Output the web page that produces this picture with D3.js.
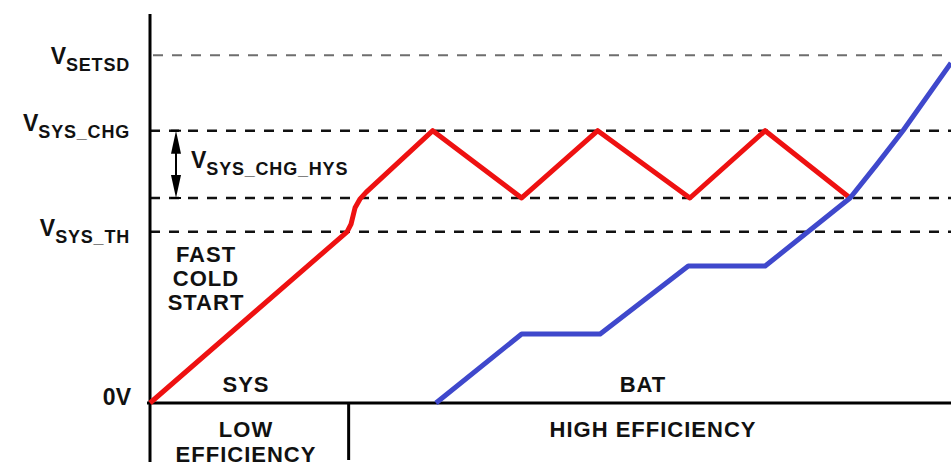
<!DOCTYPE html>
<html>
<head>
<meta charset="utf-8">
<script src="https://cdn.jsdelivr.net/npm/d3@7"></script>
<style>
  body { margin: 0; background: #fff; }
  text { font-family: "Liberation Sans", Arial, Helvetica, sans-serif; font-weight: bold; fill: #111; }
</style>
</head>
<body>
<div id="chart"></div>
<script>
// levels (arbitrary volt units) and their labels
const levelNames = ["SETSD", "SYS_CHG", "SYS_CHG_LOW", "SYS_TH"];
const levelValues = [4.47, 3.5, 2.635, 2.2];

// SYS rail (red): time, voltage
const sysTime = [0, 2.46, 2.51, 2.56, 2.62, 2.70, 3.53, 4.64, 5.59, 6.74, 7.68, 8.74];
const sysVolt = [0, 2.2, 2.30, 2.51, 2.62, 2.71, 3.5, 2.635, 3.5, 2.635, 3.5, 2.635];

// BAT (blue)
const batTime = [3.57, 4.64, 5.62, 6.72, 7.68, 8.74, 9.07, 9.40, 10];
const batVolt = [0, 0.887, 0.887, 1.76, 1.76, 2.635, 3.06, 3.5, 4.37];

const splitTime = 2.48; // low / high efficiency boundary

const W = 951, H = 462;
const x = d3.scaleLinear().domain([0, 10]).range([150, 951]);
const y = d3.scaleLinear().domain([0, 5]).range([403, 14]);

const svg = d3.select("#chart").append("svg")
    .attr("width", W).attr("height", H);

// dashed reference lines
levelNames.forEach((name, i) => {
    svg.append("line")
        .attr("x1", name === "SETSD" ? x(0) + 3 : x(0))
        .attr("x2", W)
        .attr("y1", y(levelValues[i])).attr("y2", y(levelValues[i]))
        .attr("stroke", name === "SETSD" ? "#6e6e6e" : "#111")
        .attr("stroke-width", name === "SETSD" ? 2 : 2.5)
        .attr("stroke-dasharray", "10,9");
});

// axes
svg.append("line")
    .attr("x1", x(0)).attr("x2", x(0))
    .attr("y1", y(5)).attr("y2", H)
    .attr("stroke", "#000").attr("stroke-width", 3);
svg.append("line")
    .attr("x1", x(0) - 3).attr("x2", W)
    .attr("y1", y(0)).attr("y2", y(0))
    .attr("stroke", "#000").attr("stroke-width", 3);
svg.append("line")
    .attr("x1", x(splitTime)).attr("x2", x(splitTime))
    .attr("y1", y(0)).attr("y2", 460)
    .attr("stroke", "#000").attr("stroke-width", 3);

const line = d3.line()
    .x(d => x(d[0]))
    .y(d => y(d[1]));

svg.append("path")
    .datum(sysTime.map((t, i) => [t, sysVolt[i]]))
    .attr("fill", "none")
    .attr("stroke", "#ee1111")
    .attr("stroke-width", 5)
    .attr("stroke-linejoin", "round")
    .attr("d", line);

svg.append("path")
    .datum(batTime.map((t, i) => [t, batVolt[i]]))
    .attr("fill", "none")
    .attr("stroke", "#3f48cc")
    .attr("stroke-width", 5)
    .attr("stroke-linejoin", "round")
    .attr("d", line);

// level labels: V + subscript
function vLabel(g, xPos, yPos, sub, anchor) {
    const t = g.append("text")
        .attr("x", xPos).attr("y", yPos)
        .attr("text-anchor", anchor);
    t.append("tspan").attr("font-size", 23).text("V");
    t.append("tspan").attr("font-size", 18).attr("dy", 7)
        .attr("letter-spacing", 0.8).text(sub);
    return t;
}

vLabel(svg, 130, y(levelValues[0]) + 9, "SETSD", "end");
vLabel(svg, 130, y(levelValues[1]), "SYS_CHG", "end");
vLabel(svg, 130, y(levelValues[3]) + 4, "SYS_TH", "end");

svg.append("text")
    .attr("x", 131).attr("y", y(0) + 2)
    .attr("text-anchor", "end")
    .attr("font-size", 23)
    .text("0V");

// hysteresis arrow
const ax = 176;
const yTop = y(levelValues[1]), yBot = y(levelValues[2]);
svg.append("line")
    .attr("x1", ax).attr("x2", ax)
    .attr("y1", yTop + 10).attr("y2", yBot - 10)
    .attr("stroke", "#000").attr("stroke-width", 2);
[[yTop, 1], [yBot, -1]].forEach(([yy, dir]) => {
    svg.append("path")
        .attr("d", `M${ax},${yy} L${ax - 5},${yy + dir * 23} L${ax + 5},${yy + dir * 23} Z`)
        .attr("fill", "#000");
    svg.append("line")
        .attr("x1", ax - 5).attr("x2", ax + 5)
        .attr("y1", yy).attr("y2", yy)
        .attr("stroke", "#000").attr("stroke-width", 2);
});
vLabel(svg, 191, 168, "SYS_CHG_HYS", "start");

// region texts
const notes = [
    ["FAST", 206, 262], ["COLD", 206, 286], ["START", 206, 310],
    ["SYS", 246, 392], ["BAT", 643, 392],
    ["LOW", 246, 437], ["EFFICIENCY", 246, 462],
    ["HIGH EFFICIENCY", 653, 437]
];
svg.selectAll("text.note")
    .data(notes)
    .join("text")
    .attr("class", "note")
    .attr("x", d => d[1]).attr("y", d => d[2])
    .attr("text-anchor", "middle")
    .attr("font-size", 22)
    .attr("letter-spacing", 1)
    .text(d => d[0]);
</script>
</body>
</html>
